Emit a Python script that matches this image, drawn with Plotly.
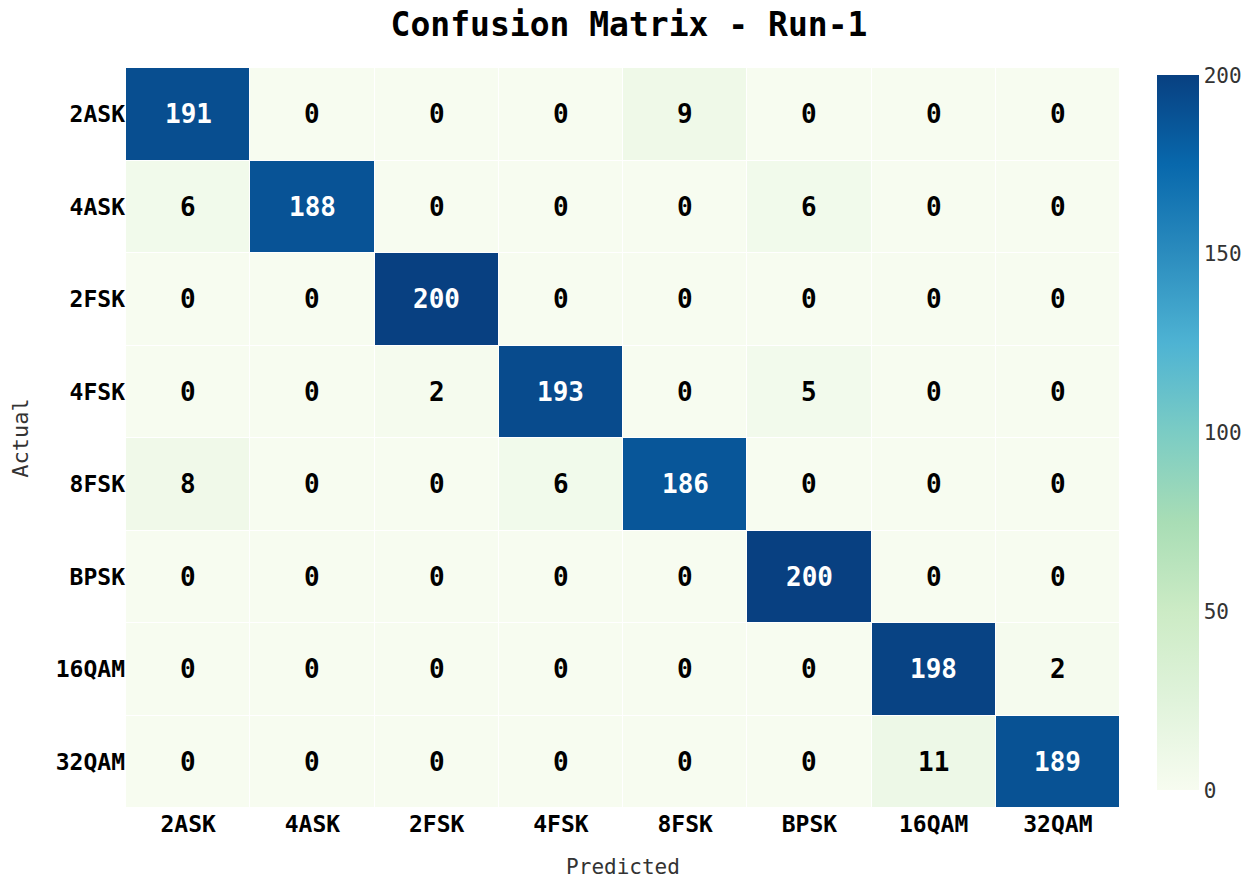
import plotly.graph_objects as go

classes = ["2ASK", "4ASK", "2FSK", "4FSK", "8FSK", "BPSK", "16QAM", "32QAM"]
row_2ask = [191, 0, 0, 0, 9, 0, 0, 0]
row_4ask = [6, 188, 0, 0, 0, 6, 0, 0]
row_2fsk = [0, 0, 200, 0, 0, 0, 0, 0]
row_4fsk = [0, 0, 2, 193, 0, 5, 0, 0]
row_8fsk = [8, 0, 0, 6, 186, 0, 0, 0]
row_bpsk = [0, 0, 0, 0, 0, 200, 0, 0]
row_16qam = [0, 0, 0, 0, 0, 0, 198, 2]
row_32qam = [0, 0, 0, 0, 0, 0, 11, 189]
matrix = [row_2ask, row_4ask, row_2fsk, row_4fsk, row_8fsk, row_bpsk, row_16qam, row_32qam]

FONT = "DejaVu Sans Mono"

fig = go.Figure(go.Heatmap(
    z=matrix, x=classes, y=classes,
    colorscale="GnBu", zmin=0, zmax=200,
    xgap=1, ygap=1,
    colorbar=dict(
        thickness=42, len=0.966, y=0.507, yanchor="middle",
        x=1.037, xanchor="left", xpad=0, ypad=0, outlinewidth=0,
        tickvals=[0, 50, 100, 150, 200], ticks="",
        tickfont=dict(family=FONT, size=21, color="#333333"),
    ),
    hoverinfo="skip",
))

annotations = []
for i, r in enumerate(classes):
    for j, c in enumerate(classes):
        v = matrix[i][j]
        annotations.append(dict(
            x=c, y=r, text=f"<b>{v}</b>", showarrow=False,
            font=dict(family=FONT, size=26, color="white" if v > 100 else "black"),
        ))

fig.update_layout(
    width=1242, height=874,
    margin=dict(l=118, r=130, t=60, b=74, autoexpand=False),
    paper_bgcolor="white", plot_bgcolor="white",
    title=dict(text="<b>Confusion Matrix - Run-1</b>", x=0.5, xanchor="center",
               y=0.981, yanchor="middle", font=dict(family=FONT, size=33, color="black")),
    annotations=annotations,
    xaxis=dict(title=dict(text="Predicted", font=dict(family=FONT, size=21, color="#333333"), standoff=23),
               tickfont=dict(family=FONT, size=23, color="black"), ticks="", showgrid=False,
               tickprefix="<b>", ticksuffix="</b>", side="bottom"),
    yaxis=dict(title=dict(text="Actual", font=dict(family=FONT, size=22, color="#333333"), standoff=32),
               tickfont=dict(family=FONT, size=23, color="black"), ticks="", showgrid=False,
               tickprefix="<b>", ticksuffix="</b>", autorange="reversed"),
)

fig.write_html("out.html")
